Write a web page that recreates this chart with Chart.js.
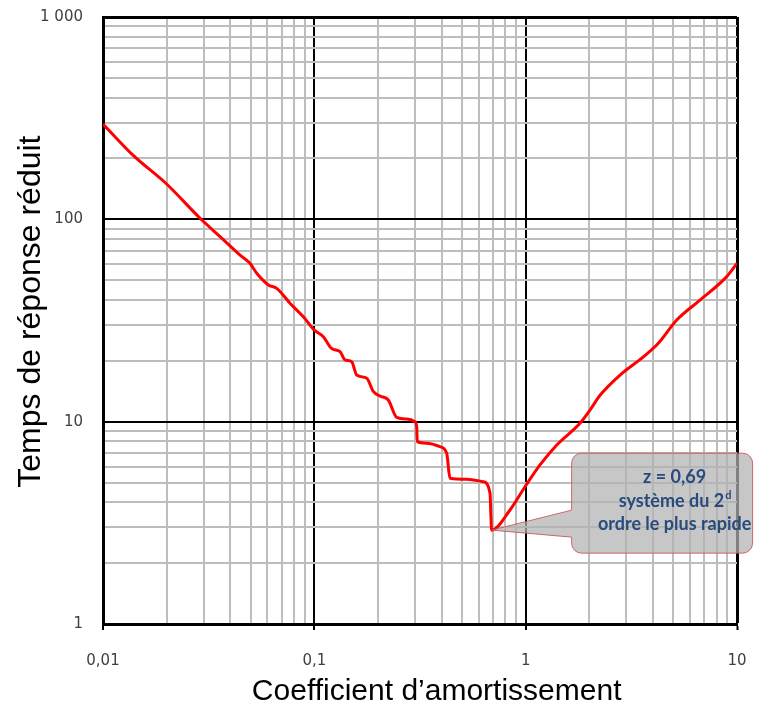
<!DOCTYPE html>
<html lang="fr">
<head>
<meta charset="utf-8">
<title>Temps de réponse réduit</title>
<script src="https://cdn.jsdelivr.net/npm/chart.js@4.4.0/dist/chart.umd.min.js"></script>
<style>
  html, body { margin: 0; padding: 0; background: #fff; }
  #wrap { position: relative; width: 759px; height: 708px; }
</style>
</head>
<body>
<div id="wrap"><canvas id="myChart"></canvas></div>
<script>
// coefficient d'amortissement z
const zValues = [0.01, 0.0139, 0.020, 0.0288, 0.0358, 0.0445, 0.0496, 0.0534, 0.0606, 0.0664,
                 0.0767, 0.0887, 0.0954, 0.0996, 0.1103, 0.1208, 0.1323, 0.1397, 0.1502, 0.1587,
                 0.177, 0.1901, 0.2045, 0.2239, 0.2453, 0.2736, 0.2995, 0.305, 0.307, 0.34,
                 0.393, 0.423, 0.4385, 0.526, 0.63, 0.678, 0.685, 0.69, 0.843, 0.993,
                 1.169, 1.403, 1.807, 2.016, 2.248, 2.796, 3.604, 4.243, 5.185, 6.683,
                 8.94, 10];
// temps de réponse réduit
const tValues = [296, 207, 149.5, 101.2, 82.1, 66.6, 60.6, 54.1, 47.4, 45.6,
                 38.5, 33.0, 30.0, 28.4, 26.3, 23.0, 22.2, 20.2, 19.8, 17.0,
                 16.4, 14.1, 13.4, 12.8, 10.5, 10.3, 10.0, 9.45, 7.96, 7.82,
                 7.52, 6.98, 5.25, 5.19, 5.05, 4.43, 3.4, 2.91, 3.66, 4.77,
                 6.11, 7.67, 9.81, 11.42, 13.5, 17.0, 20.9, 24.4, 31.8, 39.9,
                 52.1, 60.6];

const xMajorTicks = [0.01, 0.1, 1, 10];
const xTickLabels = ['0,01', '0,1', '1', '10'];
const yMajorTicks = [1, 10, 100, 1000];
const yTickLabels = ['1', '10', '100', '1 000'];
const minorSteps = [2, 3, 4, 5, 6, 7, 8, 9];

const calloutPoint = [0.69, 2.91];
const calloutLines = ['z = 0,69', 'système du 2', 'ordre le plus rapide'];

function logTicks(majors) {
    const ticks = [];
    majors.forEach((m, i) => {
        ticks.push({ value: m, major: true });
        if (i < majors.length - 1) {
            minorSteps.forEach(s => ticks.push({ value: m * s, major: false }));
        }
    });
    return ticks;
}

function majorLabel(majors, labels, value) {
    const i = majors.findIndex(m => Math.abs(m - value) / m < 1e-6);
    return i >= 0 ? labels[i] : '';
}

function gridWidth(majors) {
    return (c) => {
        if (!c.tick) return 2;
        const v = c.tick.value;
        if (Math.abs(v - majors[majors.length - 1]) / v < 1e-6) return 3;
        return 2;
    };
}

const calloutPlugin = {
    id: 'callout',
    afterDatasetsDraw(chart) {
        const { ctx, scales: { x, y } } = chart;
        const tipX = x.getPixelForValue(calloutPoint[0]);
        const tipY = y.getPixelForValue(calloutPoint[1]);
        const left = tipX + 80, right = tipX + 261;
        const top = tipY - 77, bottom = tipY + 23, r = 10;
        const baseTop = tipY - 20, baseBottom = tipY + 7;

        ctx.save();
        ctx.beginPath();
        ctx.moveTo(left + r, top);
        ctx.lineTo(right - r, top);
        ctx.arcTo(right, top, right, top + r, r);
        ctx.lineTo(right, bottom - r);
        ctx.arcTo(right, bottom, right - r, bottom, r);
        ctx.lineTo(left + r, bottom);
        ctx.arcTo(left, bottom, left, bottom - r, r);
        ctx.lineTo(left, baseBottom);
        ctx.lineTo(tipX, tipY);
        ctx.lineTo(left, baseTop);
        ctx.lineTo(left, top + r);
        ctx.arcTo(left, top, left + r, top, r);
        ctx.closePath();
        ctx.fillStyle = 'rgba(177,177,177,0.72)';
        ctx.fill();
        ctx.lineWidth = 1;
        ctx.strokeStyle = 'rgba(205,80,80,0.85)';
        ctx.stroke();

        const cx = left + 103;
        ctx.fillStyle = '#264b7c';
        ctx.textAlign = 'center';
        ctx.textBaseline = 'middle';
        ctx.font = 'bold 18px Lato';
        ctx.fillText(calloutLines[0], cx, tipY - 53);
        ctx.fillText(calloutLines[2], cx, tipY - 6);

        // second line with superscript "d"
        const main = calloutLines[1];
        const wMain = ctx.measureText(main).width;
        ctx.font = 'bold 11px Lato';
        const wSup = ctx.measureText('d').width;
        const start = cx - (wMain + wSup) / 2;
        ctx.textAlign = 'left';
        ctx.font = 'bold 18px Lato';
        ctx.fillText(main, start, tipY - 29);
        ctx.font = 'bold 11px Lato';
        ctx.fillText('d', start + wMain + 1, tipY - 35);
        ctx.restore();
    }
};

const ctx = document.getElementById('myChart').getContext('2d');
const myChart = new Chart(ctx, {
    type: 'line',
    data: {
        datasets: [{
            label: 'Temps de réponse réduit',
            data: zValues.map((z, i) => ({ x: z, y: tValues[i] })),
            borderColor: '#ff0000',
            backgroundColor: '#ff0000',
            borderWidth: 3,
            pointRadius: 0,
            cubicInterpolationMode: 'monotone',
            fill: false,
        }]
    },
    options: {
        responsive: true,
        maintainAspectRatio: false,
        animation: false,
        layout: {
            padding: { top: 17, right: 22, left: 0, bottom: 0 }
        },
        plugins: {
            legend: { display: false },
            tooltip: { enabled: false }
        },
        scales: {
            x: {
                type: 'logarithmic',
                min: 0.01,
                max: 10,
                afterBuildTicks: (scale) => { scale.ticks = logTicks(xMajorTicks); },
                afterFit: (scale) => {
                    scale.height = 84;
                    scale.paddingLeft = 0;
                    scale.paddingRight = 0;
                },
                ticks: {
                    autoSkip: false,
                    maxRotation: 0,
                    padding: 22,
                    color: '#404040',
                    font: { family: 'DejaVu Sans', size: 15 },
                    callback: (value) => majorLabel(xMajorTicks, xTickLabels, value),
                },
                grid: {
                    color: (c) => (c.tick && c.tick.major ? '#000000' : '#bdbdbd'),
                    lineWidth: gridWidth(xMajorTicks),
                    tickLength: 6,
                    tickColor: (c) => (c.tick && c.tick.major ? '#000000' : 'rgba(0,0,0,0)'),
                    tickWidth: 2,
                },
                border: { color: '#000000', width: 3 },
                title: {
                    display: true,
                    text: '    Coefficient d\u2019amortissement',
                    color: '#000000',
                    font: { family: 'Liberation Sans', size: 30, lineHeight: 1 },
                    padding: { top: 0, bottom: 1 },
                },
            },
            y: {
                type: 'logarithmic',
                min: 1,
                max: 1000,
                afterBuildTicks: (scale) => { scale.ticks = logTicks(yMajorTicks); },
                afterFit: (scale) => {
                    scale.width = 103;
                    scale.paddingTop = 0;
                    scale.paddingBottom = 0;
                },
                ticks: {
                    autoSkip: false,
                    padding: 20,
                    color: '#404040',
                    font: { family: 'DejaVu Sans', size: 15 },
                    callback: (value) => majorLabel(yMajorTicks, yTickLabels, value),
                },
                grid: {
                    color: (c) => (c.tick && c.tick.major ? '#000000' : '#bdbdbd'),
                    lineWidth: gridWidth(yMajorTicks),
                    drawTicks: false,
                },
                border: { color: '#000000', width: 3 },
                title: {
                    display: true,
                    text: '  Temps de réponse réduit',
                    color: '#000000',
                    font: { family: 'Liberation Sans', size: 32, lineHeight: 1 },
                    padding: { top: 15, bottom: 0 },
                },
            }
        }
    },
    plugins: [calloutPlugin]
});
</script>
</body>
</html>
